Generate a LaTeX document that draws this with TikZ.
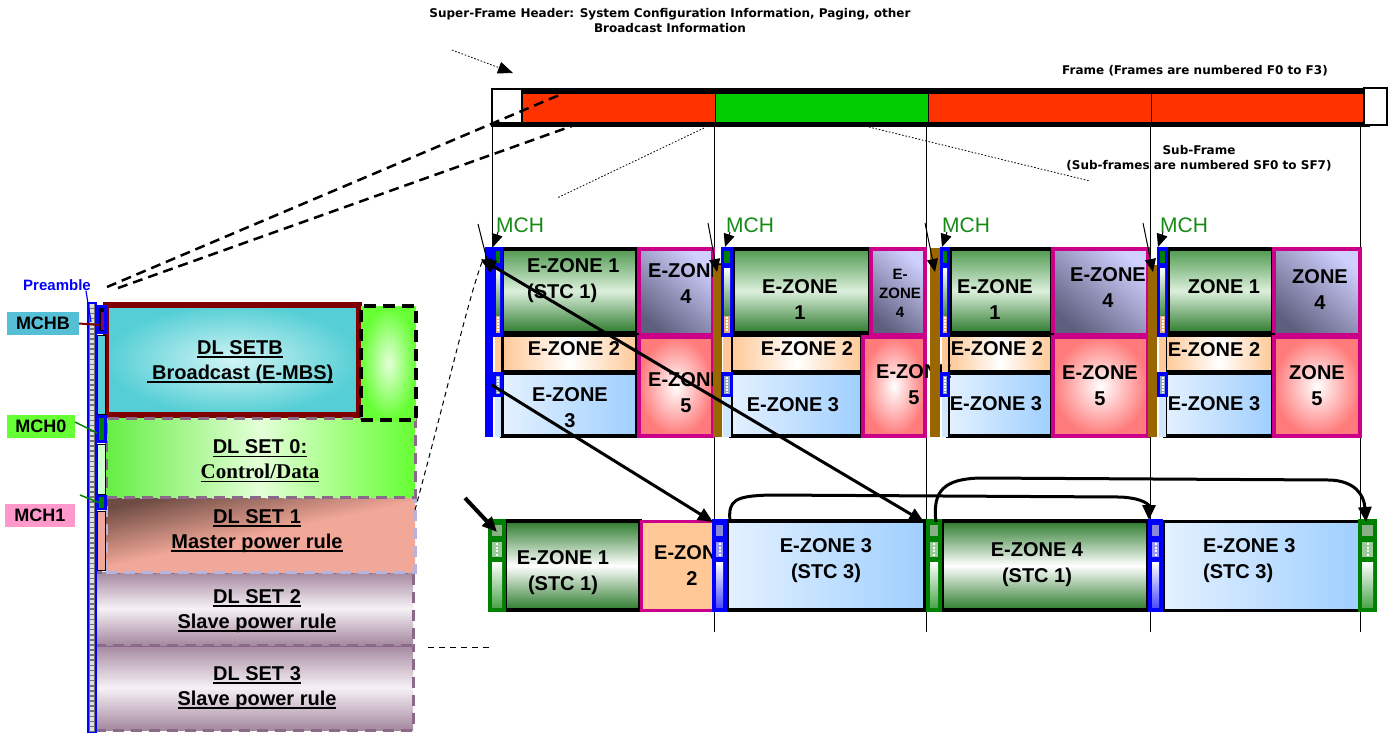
\documentclass[tikz,border=0pt]{standalone}
\usepackage{fontspec}
\setmainfont{Liberation Serif}
\setsansfont{Liberation Sans}
\newfontfamily\topfont{DejaVu Sans}
\usetikzlibrary{arrows.meta,fit}
\definecolor{fr}{HTML}{FF3300}
\definecolor{fg}{HTML}{00CC00}
\definecolor{mag}{HTML}{CC0088}
\definecolor{brn}{HTML}{996600}
\definecolor{dgr}{HTML}{008000}
\definecolor{mchg}{HTML}{158A15}
\definecolor{cyb}{HTML}{55CFD5}
\definecolor{cyl}{HTML}{D2F4F5}
\definecolor{dred}{HTML}{800000}
\definecolor{pur}{HTML}{8A6A88}
\definecolor{lav}{HTML}{B4B4E0}
\definecolor{lbb}{HTML}{55C0D5}
\definecolor{lbg}{HTML}{66FF33}
\definecolor{lbp}{HTML}{FF99CC}
\definecolor{gA}{HTML}{4F9A4F}
\definecolor{gB}{HTML}{DCEFDC}
\definecolor{gC}{HTML}{2C7A2C}
\definecolor{lvA}{HTML}{D0D0FF}
\definecolor{lvB}{HTML}{5E5E7E}
\definecolor{orA}{HTML}{FFC896}
\definecolor{blA}{HTML}{E4F1FF}
\definecolor{blB}{HTML}{9FCFFF}
\definecolor{rdA}{HTML}{FF7A7A}
\definecolor{grA}{HTML}{66EE44}
\definecolor{grB}{HTML}{E4FFD8}
\definecolor{slA}{HTML}{6E4C44}
\definecolor{slB}{HTML}{F2A898}
\definecolor{pvA}{HTML}{A5889F}
\definecolor{pvB}{HTML}{F6F1F6}
\newcommand\ulx[1]{\setbox0\hbox{#1}\rlap{\rule[-3.5pt]{\wd0}{1.7pt}}\box0}
\newcommand\ustrip[2]{%
  \fill[blue] (#1,247) rectangle (#2,337);
  \fill[blue] (#1,372) rectangle (#2,397);
  \fill[orA] ({#1+2},337) rectangle ({#2-2},372);
  \fill[blA!70!blB] ({#1+2},397) rectangle ({#2-2},437);
  \fill[dgr] ({#1+3},251) rectangle ({#2-3},263);
  \shade[top color=white, bottom color=gC] ({#1+3},268) rectangle ({#2-3},322);
  \fill[orA!60!brown] ({#1+3},316) rectangle ({#2-3},333);
  \draw[white, line width=2pt, dash pattern=on 1.5pt off 1.5pt] ({(#1+#2)/2},317) -- ({(#1+#2)/2},332);
  \fill[blB!50!gray] ({#1+3},376) rectangle ({#2-3},394);
  \draw[white, line width=2pt, dash pattern=on 1.5pt off 1.5pt] ({(#1+#2)/2},377) -- ({(#1+#2)/2},393);
}
\newcommand\lstrip[3]{%
  \fill[#3] (#1,519) rectangle (#2,612);
  \fill[#3!45!white!70!gray] ({#1+4},525) rectangle ({#2-4},536);
  \fill[#3!40!white] ({#1+4},542) rectangle ({#2-4},557);
  \draw[white, line width=2pt, dash pattern=on 2pt off 1.5pt] ({(#1+#2)/2},543) -- ({(#1+#2)/2},556);
  \shade[top color=white, bottom color=#3!70!white] ({#1+4},562) rectangle ({#2-4},607);
}
\tikzset{
  bx/.style={inner sep=0pt, outer sep=0pt},
  ezone/.style={draw=black, line width=4pt},
  magbox/.style={draw=mag, line width=4pt},
  sgreen/.style={top color=gA, bottom color=gC, middle color=gB},
  sgreenl/.style={top color=gC, bottom color=gC, middle color=white},
  slav/.style={top color=lvA, bottom color=lvB, shading angle=-40},
  sorange/.style={left color=orA, right color=orA, middle color=white},
  sblue/.style={left color=blA, right color=blB},
  sred/.style={shade, shading=radial, inner color=white, outer color=rdA},
  zt/.style={inner sep=0pt, font=\sffamily\bfseries\fontsize{20}{26}\selectfont, align=center},
  zsmall/.style={inner sep=0pt, font=\sffamily\bfseries\fontsize{15}{19}\selectfont, align=center},
  dlt/.style={inner sep=0pt, font=\sffamily\bfseries\fontsize{20}{25}\selectfont, align=center},
  dlb/.style={draw=pur, line width=3pt, dash pattern=on 11pt off 7pt},
  tt/.style={inner sep=0pt, font=\topfont\bfseries\fontsize{12}{15}\selectfont, align=center},
  mcht/.style={inner sep=0pt, text=mchg, font=\sffamily\fontsize{21}{24}\selectfont},
  lbl/.style={inner sep=0pt, minimum height=23pt, font=\sffamily\bfseries\fontsize{18}{20}\selectfont},
  arr/.style={-{Triangle[length=15pt,width=13pt]}},
  sarr/.style={-{Triangle[length=13pt,width=11pt]}},
  dotl/.style={line width=0.8pt, dash pattern=on 1.6pt off 1.8pt},
}
\begin{document}
\begin{tikzpicture}[x=1pt,y=-1pt]
\useasboundingbox (0,0) rectangle (1391,732);

% ---------- vertical guide lines
\draw[line width=1pt] (492,127) -- (492,247);
\foreach \xx in {714,926,1150,1360} \draw[line width=1pt] (\xx,127) -- (\xx,632);

% ---------- top texts
\node[tt] (sfh) at (670,21) {Super-Frame Header: System Configuration Information, Paging, other\\Broadcast Information};
\node[tt] (frt) at (1195,71) {Frame (Frames are numbered F0 to F3)};
\node[tt] (sft) at (1199,158) {Sub-Frame\\(Sub-frames are numbered SF0 to SF7)};

% ---------- frame bar
\node[fit={(491,88)(1370,127)}, bx, fill=black] (fbar) {};
\node[fit={(522,94)(715,122)}, bx, fill=fr] (f0) {};
\node[fit={(715,94)(928,122)}, bx, fill=fg] (f1) {};
\node[fit={(928,94)(1364,122)}, bx, fill=fr] (f2) {};
\draw[line width=1pt] (f1.north west) -- (f1.south west) (f1.north east) -- (f1.south east) (1151,94) -- (1151,122);
\node[fit={(492,89)(522,123)}, bx, fill=white, draw=black, line width=1.8pt] (hdr) {};
\node[fit={(1364,88)(1387,125)}, bx, fill=white, draw=black, line width=1.8pt] (rbox) {};

% ---------- dotted / dashed guide lines at top
\coordinate (d1s) at (452,50); \coordinate (d1e) at (513,73);
\draw[dotl, -{Triangle[length=15pt,width=12pt]}] (d1s) -- (d1e);
\coordinate (d2a) at (704,128); \coordinate (d2b) at (557,198);
\draw[dotl] (d2a) -- (d2b);
\coordinate (d3a) at (869,127); \coordinate (d3b) at (1090,181);
\draw[dotl] (d3a) -- (d3b);
\coordinate (pA) at (107,287); \coordinate (pAe) at (564,93);
\coordinate (pB) at (118,288); \coordinate (pBe) at (572,126);
\draw[line width=2.5pt, dash pattern=on 10pt off 6pt] (pA) -- (pAe);
\draw[line width=2.5pt, dash pattern=on 10pt off 6pt] (pB) -- (pBe);

% ---------- left stack
\node[fit={(95,645)(413,730)}, bx, dlb, top color=pvA, bottom color=pvA, middle color=pvB] (d3) {};
\node[fit={(95,572)(413,645)}, bx, dlb, top color=pvA, bottom color=pvA, middle color=pvB] (d2) {};
\node[fit={(106,497)(415,572)}, bx, draw=lav, line width=3pt, dash pattern=on 11pt off 7pt, top color=slA, bottom color=slB, middle color=slB, shading angle=12] (d1) {};
\node[fit={(106,305)(359,415)}, bx, draw=dred, line width=6pt, shade, shading=radial, inner color=cyl, outer color=cyb] (db) {};
\node[fit={(106,418)(415,497)}, bx, dlb, left color=grA, right color=lbg, middle color=grB] (d0) {};
\node[fit={(361,306)(416,420)}, bx, draw=black, line width=4pt, dash pattern=on 12pt off 7pt, shade, shading=radial, inner color=grB, outer color=lbg] (gbox) {};

\node[dlt] (tdb) at (240,362) {\ulx{DL SETB}\\\ulx{\ Broadcast (E-MBS)}};
\node[dlt] (td0) at (260,461) {\ulx{DL SET 0:}\\{\rmfamily\fontsize{21}{25}\selectfont\ulx{Control/Data}}};
\node[dlt] (td1) at (257,531) {\ulx{DL SET 1}\\\ulx{Master power rule}};
\node[dlt] (td2) at (257,611) {\ulx{DL SET 2}\\\ulx{Slave power rule}};
\node[dlt] (td3) at (257,688) {\ulx{DL SET 3}\\\ulx{Slave power rule}};

% preamble ladder
\fill[black!55] (88,303) rectangle (96,732);
\draw[gray!25, line width=4.5pt, dash pattern=on 3.5pt off 1.6pt] (92,304) -- (92,732);
\draw[blue, line width=1.5pt] (88,303) rectangle (96,733);
% mini column
\fill[blue] (96,305) rectangle (107,334);
\fill[black] (99,308) rectangle (104,331);
\fill[purple!70!blue] (101,312) rectangle (104,330);
\draw[black, line width=1pt, fill=cyb] (97.5,335) rectangle (105.5,414);
\fill[blue] (96,415) rectangle (107,443);
\fill[dgr] (99,418) rectangle (104,440);
\draw[black, line width=1pt, fill=green!20] (97.5,444) rectangle (105.5,494);
\fill[blue] (96,495) rectangle (107,510);
\fill[dgr] (99,497) rectangle (104,508);
\draw[black, line width=1pt, fill=slB] (97.5,511) rectangle (105.5,570);

% labels
\node[text=blue, inner sep=0pt, font=\sffamily\bfseries\fontsize{15}{17}\selectfont] (pre) at (57,285) {Preamble};
\coordinate (preE) at (91,322);
\draw[blue, line width=1.2pt] (pre.south east) ++(-5,0) -- (preE);
\node[lbl, fill=lbb, minimum width=72pt] (mchb) at (43,323.5) {MCHB};
\node[lbl, fill=lbg, minimum width=68pt] (mch0) at (41,426.5) {MCH0};
\node[lbl, fill=lbp, minimum width=70pt] (mch1) at (40,515.5) {MCH1};
\coordinate (mchbE) at (100,325);
\coordinate (mch0E) at (97,433);
\coordinate (mch1E) at (100,503);
\draw[dred, line width=2pt] (mchb.east) -- (mchbE);
\draw[dgr, line width=1.5pt] (75,422) -- (mch0E);
\draw[dgr, line width=1.5pt] (80,495) -- (mch1E);

% ---------- upper row (sub-frames)
\node[fit={(502,249)(637,333)}, bx, ezone, sgreen] (g1z1) {};
\node[fit={(639,249)(713,335)}, bx, magbox, slav] (g1z4) {};
\node[fit={(502,335)(637,372)}, bx, ezone, sorange] (g1z2) {};
\node[fit={(502,373)(637,436)}, bx, ezone, sblue] (g1z3) {};
\node[fit={(639,337)(713,436)}, bx, magbox, sred] (g1z5) {};

\node[fit={(733,249)(870,333)}, bx, ezone, sgreen] (g2z1) {};
\node[fit={(871,249)(925,335)}, bx, magbox, slav] (g2z4) {};
\node[fit={(731,335)(862,372)}, bx, ezone, sorange] (g2z2) {};
\node[fit={(731,373)(862,436)}, bx, ezone, sblue] (g2z3) {};
\node[fit={(863,337)(925,436)}, bx, magbox, sred] (g2z5) {};

\node[fit={(950,249)(1052,333)}, bx, ezone, sgreen] (g3z1) {};
\node[fit={(1053,249)(1148,335)}, bx, magbox, slav] (g3z4) {};
\node[fit={(948,335)(1052,372)}, bx, ezone, sorange] (g3z2) {};
\node[fit={(948,373)(1052,436)}, bx, ezone, sblue] (g3z3) {};
\node[fit={(1053,337)(1148,436)}, bx, magbox, sred] (g3z5) {};

\node[fit={(1168,249)(1273,333)}, bx, ezone, sgreen] (g4z1) {};
\node[fit={(1274,249)(1360,335)}, bx, magbox, slav] (g4z4) {};
\node[fit={(1165,335)(1273,372)}, bx, ezone, sorange] (g4z2) {};
\node[fit={(1165,373)(1273,436)}, bx, ezone, sblue] (g4z3) {};
\node[fit={(1274,337)(1360,436)}, bx, magbox, sred] (g4z5) {};

\node[zt, align=left, anchor=west] (t11) at (527,281) {E-ZONE 1\\(STC 1)};
\node[zt] (t14) at (686,284) {E-ZONE\\4};
\node[zt] (t12) at (574,349) {E-ZONE 2};
\node[zt] (t13) at (570,408) {E-ZONE\\3};
\node[zt] (t15) at (686,393) {E-ZONE\\5};

\node[zt] (t21) at (800,300) {E-ZONE\\1};
\node[zsmall] (t24) at (900,293) {E-\\ZONE\\4};
\node[zt] (t22) at (807,349) {E-ZONE 2};
\node[zt] (t23) at (793,405) {E-ZONE 3};
\node[zt] (t25) at (914,385) {E-ZONE\\5};

\node[zt] (t31) at (995,300) {E-ZONE\\1};
\node[zt] (t34) at (1108,288) {E-ZONE\\4};
\node[zt] (t32) at (997,349) {E-ZONE 2};
\node[zt] (t33) at (996,404) {E-ZONE 3};
\node[zt] (t35) at (1100,386) {E-ZONE\\5};

\node[zt] (t41) at (1224,287) {ZONE 1};
\node[zt] (t44) at (1320,290) {ZONE\\4};
\node[zt] (t42) at (1214,350) {E-ZONE 2};
\node[zt] (t43) at (1214,404) {E-ZONE 3};
\node[zt] (t45) at (1317,386) {ZONE\\5};

% strips of the upper row
\fill[blue] (485,247) rectangle (493,437);
\ustrip{493}{503}
\fill[brn] (713,265) rectangle (722,437);
\ustrip{721}{733}
\fill[brn] (930,248) rectangle (940,437);
\ustrip{940}{950}
\fill[brn] (1148,265) rectangle (1157,437);
\ustrip{1157}{1168}

% MCH labels and arrows
\node[mcht] (m1) at (520,225) {MCH};
\node[mcht] (m2) at (750,225) {MCH};
\node[mcht] (m3) at (966,225) {MCH};
\node[mcht] (m4) at (1184,225) {MCH};
\foreach \a/\b/\c/\d/\t in {478/224/490/272/493, 708/223/717/272/725, 925/223/935/272/942, 1143/223/1153/272/1158}{
  \coordinate (ms) at (\a,\b); \coordinate (me) at (\c,\d);
  \draw[line width=1pt, sarr] (ms) -- (me);
  \coordinate (hs) at (\t+5,232); \coordinate (he) at (\t,247);
  \draw[line width=1pt, sarr] (hs) -- (he);
}

% ---------- lower row
\node[fit={(505,521)(640,610)}, bx, ezone, sgreenl] (l1) {};
\node[fit={(641,521)(713,610)}, bx, draw=mag, line width=3pt, fill=orA] (l2) {};
\node[fit={(727,521)(925,610)}, bx, draw=black, line width=3.5pt, sblue] (l3) {};
\node[fit={(942,521)(1148,610)}, bx, ezone, sgreenl] (l4) {};
\node[fit={(1163,521)(1359,610)}, bx, draw=black, line width=3pt, sblue] (l5) {};

\node[zt] (tl1) at (563,573) {E-ZONE 1\\(STC 1)};
\node[zt] (tl2) at (692,566) {E-ZONE\\2};
\node[zt] (tl3) at (826,561) {E-ZONE 3\\(STC 3)};
\node[zt] (tl4) at (1037,565) {E-ZONE 4\\(STC 1)};
\node[zt, align=left, anchor=west] (tl5) at (1203,561) {E-ZONE 3\\(STC 3)};

\lstrip{488}{506}{dgr}
\lstrip{712}{727}{blue}
\lstrip{926}{942}{dgr}
\lstrip{1148}{1163}{blue}
\lstrip{1358}{1377}{dgr}

% ---------- long arrows
\coordinate (a1s) at (481,259); \coordinate (a1e) at (924,522);
\draw[line width=3pt, {Triangle[length=15pt,width=13pt]}-{Triangle[length=15pt,width=13pt]}] (a1s) -- (a1e);
\coordinate (a2s) at (492,385); \coordinate (a2e) at (713,522);
\draw[line width=3pt, arr] (a2s) -- (a2e);
\coordinate (a3s) at (465,498); \coordinate (a3e) at (497,532);
\draw[line width=4pt, arr] (a3s) -- (a3e);
\coordinate (c1s) at (730,521); \coordinate (c1e) at (1149,520);
\draw[line width=3pt, arr] (c1s) .. controls (728,500) and (735,496) .. (770,495) -- (1120,497) .. controls (1143,498) and (1149,505) .. (c1e);
\coordinate (c2s) at (936,522); \coordinate (c2e) at (1366,522);
\draw[line width=3pt, arr] (c2s) .. controls (932,490) and (945,479) .. (980,478) -- (1330,480) .. controls (1355,481) and (1364,495) .. (c2e);

% dashed thin connectors near left stack
\coordinate (k1s) at (415,510); \coordinate (k1e) at (482,262);
\draw[line width=1pt, dash pattern=on 5pt off 4pt] (k1s) .. controls (450,380) and (468,300) .. (k1e);
\coordinate (k2s) at (428,647); \coordinate (k2e) at (492,647);
\draw[line width=1pt, dash pattern=on 6pt off 5pt] (k2s) -- (k2e);
\end{tikzpicture}
\end{document}
